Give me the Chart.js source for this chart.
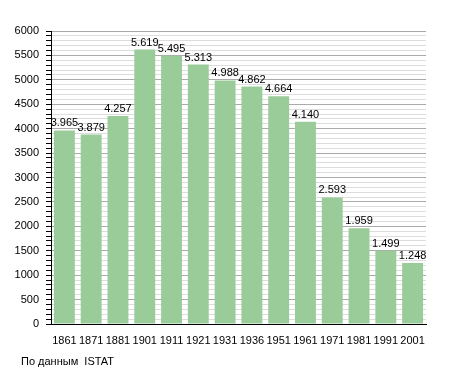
<!DOCTYPE html>
<html>
<head>
<meta charset="utf-8">
<script src="https://cdn.jsdelivr.net/npm/chart.js@4/dist/chart.umd.min.js"></script>
<style>
  html, body { margin: 0; padding: 0; background: #fff; }
  #wrap { position: relative; width: 455px; height: 373px; }
  #note {
    position: absolute; left: 21px; top: 355px;
    font: 11px "Liberation Sans", Arial, sans-serif; color: #000;
    white-space: pre;
  }
</style>
</head>
<body>
<div id="wrap">
  <canvas id="js-chart-pop" width="455" height="373"></canvas>
  <div id="note">По данным  ISTAT</div>
</div>
<script>
  // Census years and population
  const years = ['1861', '1871', '1881', '1901', '1911', '1921', '1931', '1936', '1951', '1961', '1971', '1981', '1991', '2001'];
  const population = [3965, 3879, 4257, 5619, 5495, 5313, 4988, 4862, 4664, 4140, 2593, 1959, 1499, 1248];
  const yTicks = [0, 500, 1000, 1500, 2000, 2500, 3000, 3500, 4000, 4500, 5000, 5500, 6000];

  const fontFamily = '"Liberation Sans", Arial, sans-serif';

  // Value labels above each bar, with a dot as thousands separator
  const valueLabels = {
    id: 'valueLabels',
    afterDatasetsDraw(chart) {
      const ctx = chart.ctx;
      const meta = chart.getDatasetMeta(0);
      ctx.save();
      ctx.font = '11px ' + fontFamily;
      ctx.fillStyle = '#000';
      ctx.textAlign = 'center';
      ctx.textBaseline = 'alphabetic';
      meta.data.forEach((bar, i) => {
        const v = population[i];
        const txt = Math.floor(v / 1000) + '.' + String(v % 1000).padStart(3, '0');
        ctx.fillText(txt, bar.x, bar.y - 4);
      });
      ctx.restore();
    }
  };

  new Chart(document.getElementById('js-chart-pop'), {
    type: 'bar',
    data: {
      labels: years,
      datasets: [{
        data: population,
        backgroundColor: '#99cc99',
        borderWidth: 0,
        barPercentage: 0.78,
        categoryPercentage: 1
      }]
    },
    options: {
      responsive: false,
      animation: false,
      layout: {padding: {left: 0, right: 29, top: 31, bottom: 29}},
      plugins: {legend: {display: false}, tooltip: {enabled: false}},
      scales: {
        x: {
          grid: {display: false},
          border: {display: true, color: '#000', width: 1},
          ticks: {color: '#000', font: {size: 11, family: fontFamily}, padding: 2, maxRotation: 0, autoSkip: false},
          afterFit: s => { s.height = 20; }
        },
        y: {
          min: 0,
          max: 6000,
          border: {display: true, color: '#000', width: 1},
          grid: {
            color: c => yTicks.includes(c.tick.value) ? '#aaaaaa' : '#dddddd',
            tickColor: '#000',
            tickLength: 5
          },
          ticks: {
            stepSize: 100,
            autoSkip: false,
            maxTicksLimit: 100,
            color: '#000',
            padding: 7,
            font: {size: 11, family: fontFamily},
            callback: v => yTicks.includes(v) ? String(v) : ''
          },
          afterFit: s => { s.width = 51; }
        }
      }
    },
    plugins: [valueLabels]
  });
</script>
</body>
</html>
